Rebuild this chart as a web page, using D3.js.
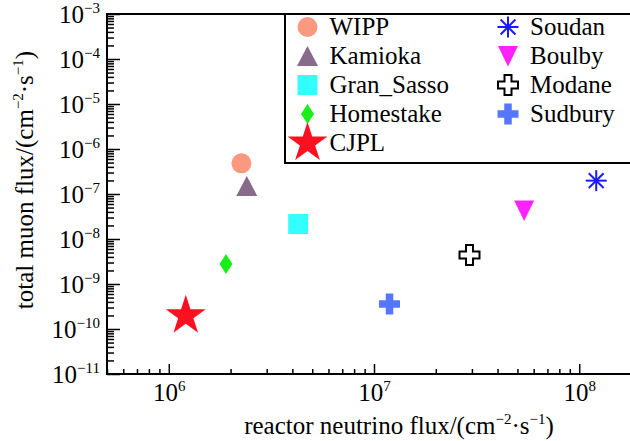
<!DOCTYPE html>
<html>
<head>
<meta charset="utf-8">
<script src="https://cdn.jsdelivr.net/npm/d3@7"></script>
<style>
  body { margin: 0; background: #fff; }
</style>
</head>
<body>
<script>
// data
var sites = ["WIPP", "Kamioka", "Gran_Sasso", "Homestake", "CJPL", "Soudan", "Boulby", "Modane", "Sudbury"]
var neutrinoFlux = [2.26e6, 2.40e6, 4.27e6, 1.90e6, 1.21e6, 1.21e8, 5.39e7, 2.92e7, 1.19e7]
var muonFlux = [4.8e-7, 1.5e-7, 2.15e-8, 2.78e-9, 1.96e-10, 1.98e-7, 4.3e-8, 4.4e-9, 3.6e-10]
var shapes = ["circle", "triangle", "square", "diamond", "star", "asterisk", "triangleDown", "openCross", "plus"]
var colors = ["#f99a80", "#8a6a8a", "#33ffff", "#1aee1a", "#ff1020", "#1a1aff", "#ff22ff", "#000000", "#5577ff"]
var xMajor = [1e6, 1e7, 1e8]
var yMajor = [1e-11, 1e-10, 1e-9, 1e-8, 1e-7, 1e-6, 1e-5, 1e-4, 1e-3]

var FONT = "'Liberation Serif', 'Times New Roman', Times, serif"
var FS = '25px', SUP = '15px'
var W = 630, H = 441
var d = d3.select('body').append('svg').attr('width', W).attr('height', H)
    .attr('font-family', FONT)

var x = d3.scaleLog().domain([5e5, 2e8]).range([107, 641])
var y = d3.scaleLog().domain([1e-11, 1e-3]).range([374, 14])

function isMajor(v) {
    var e = Math.log10(v)
    return Math.abs(e - Math.round(e)) < 1e-6
}

function sup(sel) {
    sel.each(function (v) {
        var t = d3.select(this)
        var e = Math.round(Math.log10(v))
        t.text(null)
        t.append('tspan').text('10')
        t.append('tspan').attr('dy', -10).attr('font-size', SUP)
            .text(String(e).replace('-', '\u2212'))
    })
}

function styleAxis(g, labels) {
    g.attr('font-family', FONT)
    g.select('.domain').remove()
    g.selectAll('line').attr('stroke-width', 1.5)
    if (labels) g.selectAll('text').attr('font-size', FS).call(sup)
}

// x axis
var xMinor = x.ticks().filter(function (v) { return !isMajor(v) })
d.append('g').attr('transform', 'translate(0,374)')
    .call(d3.axisBottom(x).tickValues(xMinor).tickSizeInner(-5).tickSizeOuter(0).tickFormat(''))
    .call(styleAxis, false)
d.append('g').attr('transform', 'translate(0,374)')
    .call(d3.axisBottom(x).tickValues(xMajor).tickSizeInner(-10).tickSizeOuter(0).tickPadding(9))
    .call(styleAxis, true)

// y axis
var yMinor = y.ticks().filter(function (v) { return !isMajor(v) })
d.append('g').attr('transform', 'translate(107,0)')
    .call(d3.axisLeft(y).tickValues(yMinor).tickSizeInner(-7).tickSizeOuter(0).tickFormat(''))
    .call(styleAxis, false)
d.append('g').attr('transform', 'translate(107,0)')
    .call(d3.axisLeft(y).tickValues(yMajor).tickSizeInner(-13).tickSizeOuter(0).tickPadding(7))
    .call(styleAxis, true)

// frame
d.append('rect')
    .attr('x', x.range()[0]).attr('y', y.range()[1])
    .attr('width', x.range()[1] - x.range()[0])
    .attr('height', y.range()[0] - y.range()[1])
    .attr('fill', 'none').attr('stroke', '#000').attr('stroke-width', 2)

// axis titles
function unitLabel(t, first) {
    t.append('tspan').text(first + ' flux/(cm')
    t.append('tspan').attr('dy', -10).attr('font-size', SUP).text('\u22122')
    t.append('tspan').attr('dy', 10).text('\u00b7s')
    t.append('tspan').attr('dy', -10).attr('font-size', SUP).text('\u22121')
    t.append('tspan').attr('dy', 10).text(')')
}
d.append('text').attr('x', 399).attr('y', 434).attr('text-anchor', 'middle')
    .attr('font-size', FS).call(unitLabel, 'reactor neutrino')
d.append('text').attr('transform', 'translate(33,180) rotate(-90)').attr('text-anchor', 'middle')
    .attr('font-size', FS).call(unitLabel, 'total muon')

// marker shapes
function starPath(R) {
    var p = []
    for (var i = 0; i < 10; i++) {
        var r = i % 2 ? R * 0.382 : R
        var a = Math.PI * i / 5
        p.push([Math.sin(a) * r, -Math.cos(a) * r])
    }
    return 'M' + p.join('L') + 'Z'
}
function crossPath(s, w) {
    var a = s / 2, b = w / 2
    return 'M' + [[-b, -a], [b, -a], [b, -b], [a, -b], [a, b], [b, b], [b, a], [-b, a], [-b, b], [-a, b], [-a, -b], [-b, -b]].join('L') + 'Z'
}

function marker(g, shape, color) {
    if (shape == 'circle') {
        g.append('circle').attr('r', 10).attr('fill', color)
    } else if (shape == 'triangle') {
        g.append('path').attr('d', 'M0,-10L10.5,10L-10.5,10Z').attr('fill', color)
    } else if (shape == 'triangleDown') {
        g.append('path').attr('d', 'M-10,-10L10,-10L0,10.5Z').attr('fill', color)
    } else if (shape == 'square') {
        g.append('rect').attr('x', -10).attr('y', -10).attr('width', 20).attr('height', 20).attr('fill', color)
    } else if (shape == 'diamond') {
        g.append('path').attr('d', 'M0,-10L6.5,0L0,10L-6.5,0Z').attr('fill', color)
    } else if (shape == 'star') {
        g.append('path').attr('d', starPath(21)).attr('fill', color)
    } else if (shape == 'asterisk') {
        var r = 10.5
        for (var i = 0; i < 4; i++) {
            var a = Math.PI * i / 4
            g.append('line')
                .attr('x1', -Math.cos(a) * r).attr('y1', -Math.sin(a) * r)
                .attr('x2', Math.cos(a) * r).attr('y2', Math.sin(a) * r)
                .attr('stroke', color).attr('stroke-width', 2)
        }
    } else if (shape == 'openCross') {
        g.append('path').attr('d', crossPath(20, 7)).attr('fill', '#fff')
            .attr('stroke', color).attr('stroke-width', 2)
    } else if (shape == 'plus') {
        g.append('path').attr('d', crossPath(21, 7.5)).attr('fill', color)
    }
}

// points
sites.forEach(function (s, i) {
    var g = d.append('g')
        .attr('transform', 'translate(' + x(neutrinoFlux[i]) + ',' + y(muonFlux[i]) + ')')
    marker(g, shapes[i], colors[i])
})

// legend
d.append('rect').attr('x', 285).attr('y', 14).attr('width', 400).attr('height', 149)
    .attr('fill', '#fff').attr('stroke', '#000').attr('stroke-width', 2)
sites.forEach(function (s, i) {
    var col = i < 5 ? 0 : 1
    var row = i < 5 ? i : i - 5
    var mx = col ? 508 : 307.5
    var my = 27 + row * 29
    var g = d.append('g').attr('transform', 'translate(' + mx + ',' + my + ')')
    marker(g, shapes[i], colors[i])
    d.append('text').attr('x', mx + 22).attr('y', my).attr('dy', '0.33em')
        .attr('font-size', FS).text(s)
})
</script>
</body>
</html>
